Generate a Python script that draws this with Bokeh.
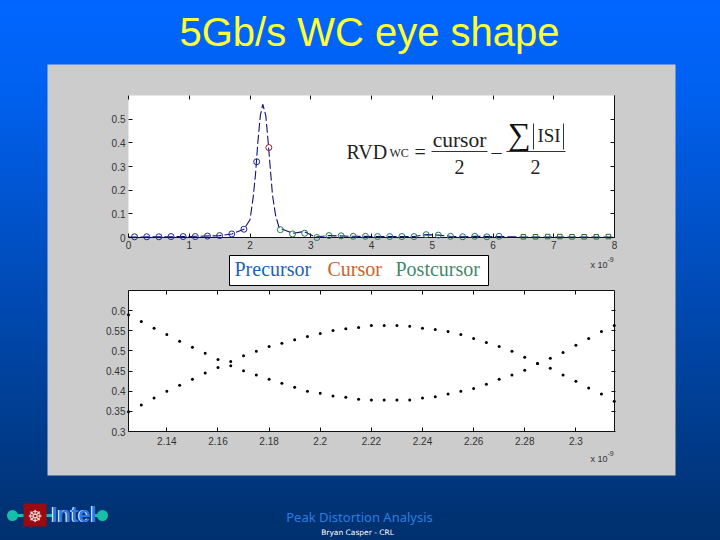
from bokeh.embed import file_html
from bokeh.resources import INLINE
from bokeh.plotting import figure
from bokeh.models import Range1d, LinearAxis, FixedTicker, ColumnDataSource
from bokeh.core.properties import value

# ---------- data ----------
title_text = "5Gb/s WC eye shape"
legend_labels = ["Precursor", "Cursor", "Postcursor"]
footer_main = "Peak Distortion Analysis"
footer_sub = "Bryan Casper - CRL"

pulse_t = [0.0, 0.5, 1.0, 1.5, 1.7, 1.9, 2.0, 2.05, 2.09, 2.13, 2.17, 2.21, 2.26, 2.29, 2.33, 2.37,
           2.42, 2.48, 2.7, 2.89, 3.08, 3.3, 3.7, 4.1, 4.7, 4.9, 5.1, 5.3, 5.5, 5.7, 6.1, 6.5, 7.0, 7.5, 8.0]
pulse_v = [0.002, 0.003, 0.004, 0.008, 0.015, 0.035, 0.075, 0.165, 0.265, 0.405, 0.515, 0.563, 0.515,
           0.43, 0.305, 0.18, 0.095, 0.04, 0.018, 0.025, 0.002, 0.008, 0.005, 0.004, 0.004, 0.012, 0.01,
           0.005, 0.003, 0.005, 0.004, 0.002, 0.002, 0.002, 0.002]

pre_t = [0.1, 0.3, 0.5, 0.7, 0.9, 1.1, 1.3, 1.5, 1.7, 1.9, 2.11]
pre_v = [0.003, 0.003, 0.003, 0.004, 0.004, 0.004, 0.006, 0.008, 0.015, 0.035, 0.32]
cur_t = [2.31]
cur_v = [0.38]
post_t = [2.5, 2.7, 2.9, 3.1, 3.3, 3.5, 3.7, 3.9, 4.1, 4.3, 4.5, 4.7, 4.9, 5.1, 5.3, 5.5, 5.7, 5.9, 6.1]
post_v = [0.033, 0.015, 0.018, 0.0, 0.008, 0.007, 0.005, 0.005, 0.004, 0.004, 0.004, 0.004, 0.012, 0.01,
          0.005, 0.003, 0.005, 0.003, 0.005]
tail_t = [6.5, 6.7, 6.9, 7.1, 7.3, 7.5, 7.7, 7.9]
tail_v = [0.003, 0.003, 0.004, 0.004, 0.003, 0.003, 0.003, 0.004]

eye_t = [2.125, 2.13, 2.135, 2.14, 2.145, 2.15, 2.155, 2.16, 2.165, 2.17, 2.175, 2.18, 2.185, 2.19, 2.195,
         2.2, 2.205, 2.21, 2.215, 2.22, 2.225, 2.23, 2.235, 2.24, 2.245, 2.25, 2.255, 2.26, 2.265, 2.27,
         2.275, 2.28, 2.285, 2.29, 2.295, 2.3, 2.305, 2.31, 2.315]
eye_a = [0.59, 0.573, 0.556, 0.541, 0.524, 0.509, 0.494, 0.479, 0.4635, 0.451, 0.44, 0.43, 0.42, 0.41, 0.40,
         0.395, 0.388, 0.385, 0.38, 0.378, 0.378, 0.378, 0.378, 0.383, 0.386, 0.393, 0.40, 0.407, 0.417, 0.43,
         0.44, 0.452, 0.469, 0.482, 0.496, 0.514, 0.531, 0.548, 0.563]
eye_b = [0.349, 0.366, 0.383, 0.40, 0.415, 0.43, 0.445, 0.459, 0.474, 0.488, 0.499, 0.511, 0.519, 0.528, 0.536,
         0.543, 0.551, 0.555, 0.558, 0.563, 0.563, 0.563, 0.561, 0.556, 0.553, 0.548, 0.541, 0.531, 0.521, 0.511,
         0.499, 0.484, 0.469, 0.457, 0.44, 0.425, 0.408, 0.393, 0.375]

top_xticks = [0, 1, 2, 3, 4, 5, 6, 7, 8]
top_yticks = [0, 0.1, 0.2, 0.3, 0.4, 0.5]
bot_xticks = [2.14, 2.16, 2.18, 2.2, 2.22, 2.24, 2.26, 2.28, 2.3]
bot_yticks = [0.3, 0.35, 0.4, 0.45, 0.5, 0.55, 0.6]

# ---------- page geometry (window pixels) ----------
W, H = 720, 540
PX0, PY0 = 0, 0


def extra(lo_px, hi_px, lo_val, hi_val, page_start, page_end):
    """A range that puts lo_val at lo_px and hi_val at hi_px on the page."""
    k = (hi_val - lo_val) / (hi_px - lo_px)
    return Range1d(start=lo_val + (page_start - lo_px) * k, end=lo_val + (page_end - lo_px) * k)


p = figure(width=W, height=H, output_backend="svg", toolbar_location=None,
           x_range=Range1d(PX0, PX0 + W), y_range=Range1d(PY0 + H, PY0),
           min_border=0, outline_line_color=None, background_fill_color=None, border_fill_color=None,
           x_axis_location=None, y_axis_location=None)
p.grid.visible = False
p.extra_x_ranges = {"tx": extra(128, 614, 0, 8, PX0, PX0 + W), "bx": extra(128, 615, 2.125, 2.3155, PX0, PX0 + W)}
p.extra_y_ranges = {"ty": extra(237, 95, 0, 0.6, PY0 + H, PY0), "by": extra(431, 290, 0.3, 0.65, PY0 + H, PY0)}


def text(x, y, s, size, color, font="Liberation Sans", align="left", style="normal", base="middle"):
    p.text(x=[x], y=[y], text=[s], text_font=value(font), text_font_size=f"{size}px", text_color=color,
           text_align=align, text_baseline=base, text_font_style=style)


# slide panel and axes boxes
p.quad(left=[47], right=[675], top=[64], bottom=[475], fill_color="#cccccc", line_color=None)
p.quad(left=[128], right=[614], top=[95], bottom=[237], fill_color="white", line_color=None)
p.quad(left=[128], right=[614], top=[290], bottom=[431], fill_color="white", line_color=None)
p.segment(x0=[614, 128], y0=[95, 237], x1=[614, 614], y1=[237, 237], line_color="#111111", line_width=1)
p.segment(x0=[128, 128, 614, 128], y0=[290, 431, 290, 290], x1=[614, 614, 614, 128], y1=[290, 431, 431, 431],
          line_color="#111111", line_width=1)


def axis(xr, yr, side, loc, ticks, labels, overrides=None, standoff=3):
    a = LinearAxis(x_range_name=xr, y_range_name=yr, fixed_location=loc,
                   ticker=FixedTicker(ticks=ticks), major_tick_in=4, major_tick_out=0,
                   minor_tick_line_color=None, axis_line_color=None, major_tick_line_color="#111111",
                   major_label_text_font="Liberation Sans", major_label_text_font_size="10px",
                   major_label_text_color="#333333", major_label_standoff=standoff)
    if not labels:
        a.major_label_text_color = None
    if overrides:
        a.major_label_overrides = overrides
    p.add_layout(a, side)


y_over = {0: "0", 0.1: "0.1", 0.2: "0.2", 0.3: "0.3", 0.4: "0.4", 0.5: "0.5"}
axis("tx", "ty", "below", 0, top_xticks, True)
axis("tx", "ty", "above", 0.6, top_xticks, False)
axis("tx", "ty", "left", 0, top_yticks, True, overrides=y_over)
axis("tx", "ty", "right", 8, top_yticks, False)
axis("bx", "by", "below", 0.3, bot_xticks, True, standoff=5)
axis("bx", "by", "above", 0.65, bot_xticks, False)
axis("bx", "by", "left", 2.125, bot_yticks, True)
axis("bx", "by", "right", 2.3155, bot_yticks, False)

# upper plot
p.line(pulse_t, pulse_v, x_range_name="tx", y_range_name="ty", line_color="#10107a", line_width=1.1,
       line_dash=[9, 3])
p.scatter(pre_t, pre_v, x_range_name="tx", y_range_name="ty", marker="circle", size=6, fill_color=None,
          line_color="#1c2a9a", line_width=1)
p.scatter(cur_t, cur_v, x_range_name="tx", y_range_name="ty", marker="circle", size=6, fill_color=None,
          line_color="#a02040", line_width=1)
p.scatter(post_t, post_v, x_range_name="tx", y_range_name="ty", marker="circle", size=6, fill_color=None,
          line_color="#207a50", line_width=1)
p.scatter(tail_t, tail_v, x_range_name="tx", y_range_name="ty", marker="square", size=4.5, fill_color=None,
          line_color="#206a30", line_width=1)

# lower plot
eye = ColumnDataSource(dict(t=eye_t, a=eye_a, b=eye_b))
for col in ("a", "b"):
    p.scatter("t", col, source=eye, x_range_name="bx", y_range_name="by", marker="circle", size=3,
              fill_color="black", line_color=None)

# title and footer
text(369, 31, title_text, 40, "#ffff33", align="center")
text(359, 516, footer_main, 13, "#2c7ee0", font="Noto Sans", align="center")
text(357, 531.5, footer_sub, 7.5, "white", font="DejaVu Sans", align="center")

# multipliers
text(590, 264, "x 10", 9, "#333333", font="Liberation Sans")
text(607, 259, "-9", 7, "#333333", font="Liberation Sans")
text(590, 458, "x 10", 9, "#333333", font="Liberation Sans")
text(607, 453, "-9", 7, "#333333", font="Liberation Sans")

# legend box
p.quad(left=[229], right=[488], top=[255], bottom=[285], fill_color="white", line_color="black", line_width=1)
for lx, lab, col in zip([234, 327, 395], legend_labels, ["#1a62b8", "#d2601e", "#3f8a6a"]):
    text(lx, 268.5, lab, 20, col, font="Liberation Serif")

# formula
S = "Liberation Serif"
FC = "#222222"
text(346, 151, "RVD", 20, FC, font=S)
text(389, 152.5, "WC", 12, FC, font=S)
text(414, 151, "=", 20, FC, font=S)
text(459, 139, "cursor", 21.5, FC, font=S, align="center")
text(459, 166, "2", 20, FC, font=S, align="center")
text(491, 151, "\u2013", 20, FC, font=S)
text(519, 133, "\u2211", 32, "#111111", font=S, align="center")
text(548.5, 135, "ISI", 19, FC, font=S, align="center")
text(535, 166, "2", 20, FC, font=S, align="center")
p.segment(x0=[431, 506, 533, 563], y0=[151, 151, 123, 123], x1=[487, 565, 533, 563], y1=[151, 151, 149, 149],
          line_color="#333333", line_width=1)

# logo
p.segment(x0=[12, 92], y0=[515, 515], x1=[53, 102], y1=[515, 515], line_color="#16c0a8", line_width=3)
p.scatter([12, 102], [515, 515], marker="circle", size=11, fill_color="#16c0a8", line_color=None)
p.quad(left=[23], right=[46], top=[503], bottom=[526], fill_color="#9a0a10", line_color=None)
text(34.5, 515, "\u2638", 17, "#f5d8d8", font="DejaVu Sans", align="center")
text(72.5, 514, "Intel", 22, "white", font="Liberation Sans", align="center", style="bold")
text(73.5, 514, "Intel", 22, "#2a78f0", font="Liberation Sans", align="center", style="bold")

html = file_html(p, INLINE)
css = ("<style>html{height:540px;background:linear-gradient(180deg,#0066ff 0%,#0062f4 14%,#003272 96%,#003070 100%);"
       "background-repeat:no-repeat}body{background:transparent}</style></head>")
html = html.replace("</head>", css, 1)
open("out.html", "w").write(html)
